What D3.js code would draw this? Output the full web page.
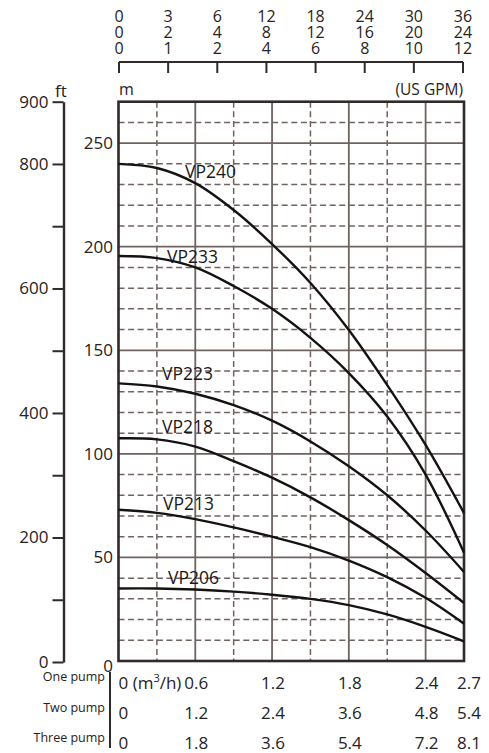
<!DOCTYPE html>
<html>
<head>
<meta charset="utf-8">
<script src="https://cdn.jsdelivr.net/npm/d3@7"></script>
<style>
  html, body { margin: 0; padding: 0; background: #fff; }
  svg { display: block; }
  text { font-family: "Open Sans", "Noto Sans", sans-serif; fill: #262222; }
</style>
</head>
<body>
<svg id="chart" width="489" height="753"></svg>
<script>
// Flow sample points (one pump, m³/h) and head (m) of each model
const flow = [0, 0.3, 0.6, 0.9, 1.2, 1.5, 1.8, 2.1, 2.4, 2.7];
const models = ["VP240", "VP233", "VP223", "VP218", "VP213", "VP206"];
const vp240 = [240, 238, 230.7, 217.7, 201.3, 182.5, 159.8, 133.2, 104.3, 71.4];
const vp233 = [195.5, 194.5, 190, 181, 170, 156, 139, 118, 90, 52.3];
const vp223 = [134, 132.5, 129, 123.5, 116, 106, 94, 80, 63, 43];
const vp218 = [107.5, 107, 103.5, 96.5, 88.5, 79, 68, 56, 42.5, 28];
const vp213 = [73, 71.5, 68.5, 64.5, 60, 55, 48.5, 40.5, 30.5, 18];
const vp206 = [35, 35, 34.5, 33.5, 32, 30, 27, 22.5, 16.5, 9.5];
const heads = [vp240, vp233, vp223, vp218, vp213, vp206];

// US GPM scale rows (three / two / one pump)
const gpmThree = ["0", "3", "6", "12", "18", "24", "30", "36"];
const gpmTwo   = ["0", "2", "4", "8", "12", "16", "20", "24"];
const gpmOne   = ["0", "1", "2", "4", "6", "8", "10", "12"];

// m³/h rows under the chart
const pumpNames = ["One pump", "Two pump", "Three pump"];
const pumpCount = [1, 2, 3];
const flowTicks = [0, 0.6, 1.2, 1.8, 2.4, 2.7];

const headTicksM = [0, 50, 100, 150, 200, 250];
const headTicksFt = [0, 100, 200, 300, 400, 500, 600, 700, 800, 900];
const ftLabelled = [0, 200, 400, 600, 800, 900];

// ---- layout ----
const svg = d3.select("#chart");
const L = 118.5, R = 464, T = 101.7, B = 661;

const x = d3.scaleLinear().domain([0, 2.7]).range([L, R]);
const y = d3.scaleLinear().domain([0, 270]).range([B, T]);
const yFt = d3.scaleLinear().domain([0, 900]).range([B + 1, T]);
const gpmX = d3.scalePoint().domain(d3.range(gpmOne.length)).range([119, 463]);

const gridColor = "#6f6360";
const frameColor = "#302a2a";

// ---- grid ----
const grid = svg.append("g");
d3.range(10, 270, 10).forEach(v => {
  const solid = v % 50 === 0;
  grid.append("line")
    .attr("x1", L).attr("x2", R).attr("y1", y(v)).attr("y2", y(v))
    .attr("stroke", gridColor).attr("stroke-width", solid ? 1.8 : 1.5)
    .attr("stroke-dasharray", solid ? null : "6,3.6");
});
d3.range(1, 9).forEach(i => {
  const v = i * 0.3;
  const solid = i % 2 === 0;
  grid.append("line")
    .attr("x1", x(v)).attr("x2", x(v)).attr("y1", T).attr("y2", B)
    .attr("stroke", gridColor).attr("stroke-width", solid ? 1.8 : 1.5)
    .attr("stroke-dasharray", solid ? null : "6,3.6");
});

// ---- frame ----
svg.append("rect")
  .attr("x", L).attr("y", T).attr("width", R - L).attr("height", B - T)
  .attr("fill", "none").attr("stroke", frameColor).attr("stroke-width", 2.6);

// ---- curves ----
const line = d3.line().x((d, i) => x(flow[i])).y(d => y(d)).curve(d3.curveCatmullRom.alpha(0.5));
svg.append("g").selectAll("path").data(heads).join("path")
  .attr("d", line).attr("fill", "none")
  .attr("stroke", "#151212").attr("stroke-width", 2.4);

// model labels, placed in flow / head units
const labelAt = [[0.52, 233.2], [0.379, 192.1], [0.34, 135.6], [0.34, 110.1], [0.348, 72.9], [0.387, 37.2]];
svg.append("g").selectAll("text").data(models).join("text")
  .attr("x", (d, i) => x(labelAt[i][0]))
  .attr("y", (d, i) => y(labelAt[i][1]))
  .attr("font-size", 17.5).style("fill", "#1c1818")
  .text(d => d);

// ---- m axis labels ----
svg.append("g").selectAll("text").data(headTicksM).join("text")
  .attr("x", 113).attr("y", d => y(d) + (d === 0 ? 5 : 0)).attr("dy", "0.35em")
  .attr("text-anchor", "end").attr("font-size", 17)
  .text(d => d);
svg.append("text").attr("x", 119).attr("y", 95).attr("font-size", 16).text("m");

// ---- ft axis ----
const ftAxis = d3.axisLeft(yFt).tickValues(headTicksFt)
  .tickFormat(d => ftLabelled.includes(d) ? d : "")
  .tickSize(11).tickSizeOuter(0).tickPadding(4);
const gFt = svg.append("g").attr("transform", "translate(63.5,0)").call(ftAxis);
gFt.select(".domain").attr("stroke", frameColor).attr("stroke-width", 2.4);
gFt.selectAll(".tick line").attr("stroke", frameColor).attr("stroke-width", 2);
gFt.selectAll(".tick text").attr("font-size", 17)
  .attr("font-family", "'Open Sans', 'Noto Sans', sans-serif").style("fill", "#262222");
svg.append("text").attr("x", 61).attr("y", 97).attr("text-anchor", "middle")
  .attr("font-size", 17).text("ft");

// ---- US GPM axis on top ----
const gTop = svg.append("g");
gTop.append("line").attr("x1", 119).attr("x2", 463).attr("y1", 62).attr("y2", 62)
  .attr("stroke", frameColor).attr("stroke-width", 2.2);
gTop.selectAll("line.tk").data(gpmOne).join("line").attr("class", "tk")
  .attr("x1", (d, i) => gpmX(i)).attr("x2", (d, i) => gpmX(i))
  .attr("y1", 62).attr("y2", 73)
  .attr("stroke", frameColor).attr("stroke-width", 2);
[gpmThree, gpmTwo, gpmOne].forEach((row, r) => {
  gTop.selectAll("text.r" + r).data(row).join("text").attr("class", "r" + r)
    .attr("x", (d, i) => gpmX(i)).attr("y", 22 + r * 16)
    .attr("text-anchor", "middle").attr("font-size", 16)
    .text(d => d);
});
svg.append("text").attr("x", 463).attr("y", 95).attr("text-anchor", "end")
  .attr("font-size", 15.5).text("(US GPM)");

// ---- m³/h rows ----
const gRows = svg.append("g");
gRows.append("line").attr("x1", 110).attr("x2", 110).attr("y1", 672).attr("y2", 748)
  .attr("stroke", frameColor).attr("stroke-width", 2);
pumpCount.forEach((n, r) => {
  const base = 689 + r * 30;
  gRows.append("text").attr("x", 105).attr("y", base - 8 + (r === 0 ? 0 : 1))
    .attr("text-anchor", "end").attr("font-size", 12.5).text(pumpNames[r]);
  flowTicks.forEach((f, i) => {
    const v = +(f * n).toFixed(1);
    const t = gRows.append("text").attr("y", base).attr("font-size", 17);
    if (i === 0) {
      t.attr("x", x(0)).attr("text-anchor", "start");
      if (r === 0) {
        t.text("0 (m");
        t.append("tspan").attr("dy", -7).attr("font-size", 11).text("3");
        t.append("tspan").attr("dy", 7).text("/h)");
      } else {
        t.text("0");
      }
    } else {
      t.attr("x", x(f) + (i === flowTicks.length - 1 ? 5 : 1))
        .attr("text-anchor", "middle").text(v);
    }
  });
});
</script>
</body>
</html>
